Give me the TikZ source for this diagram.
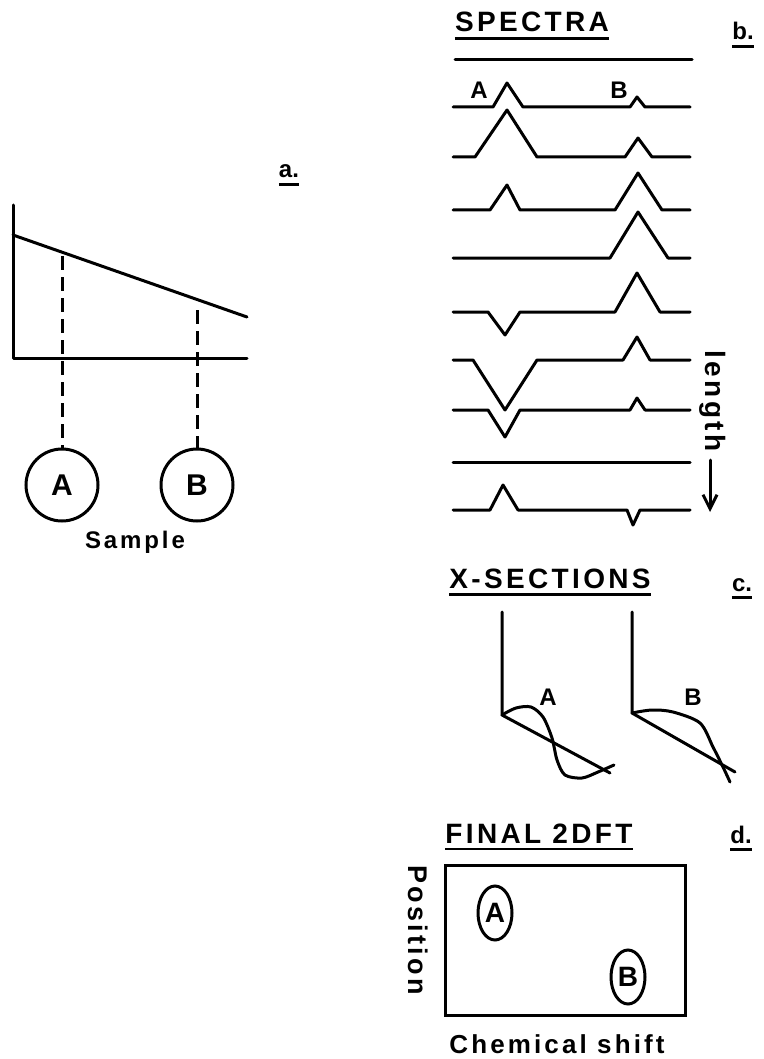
\documentclass[tikz,border=0pt]{standalone}
\usepackage{fontspec}
\newfontfamily\sketchfont{Liberation Sans Bold}[LetterSpace=12]
\newfontfamily\sketchplain{Liberation Sans Bold}
\usetikzlibrary{positioning,arrows.meta,shapes.geometric}

\tikzset{
  trace/.style={line width=3pt, line join=round, line cap=round},
  dashline/.style={line width=3pt, dash pattern=on 14pt off 7pt},
  uline/.style={line width=2.5pt},
  ttl/.style={font=\sketchfont\fontsize{28}{30}\selectfont, inner sep=0pt, anchor=base},
  tag/.style={font=\sketchplain\fontsize{24}{26}\selectfont, inner sep=0pt, anchor=base},
  pk/.style={font=\sketchplain\fontsize{24}{26}\selectfont, inner sep=0pt},
  smp/.style={draw, circle, line width=3pt, minimum size=72pt, inner sep=0pt,
    font=\sketchplain\fontsize{30}{32}\selectfont},
  spot/.style={draw, ellipse, line width=3pt, minimum width=34pt, minimum height=54pt,
    inner sep=0pt, font=\sketchplain\fontsize{28}{30}\selectfont},
}

\begin{document}
\begin{tikzpicture}[x=1pt, y=-1pt]
\useasboundingbox (0,0) rectangle (763,1059);
% a. sample and profile
\node[tag] (pa) at (289,178) {a.};
\draw[trace] (13,205) -- (13,358) -- (247,358);
\draw[trace] (13,235) -- (247,317);
\node[smp] (smpA) at (62,485) {A};
\node[smp] (smpB) at (197,485) {B};
\coordinate (tipA) at (62,256);
\coordinate (tipB) at (197,310);
\draw[dashline] (tipA) -- (smpA);
\draw[dashline] (tipB) -- (smpB);
\node[ttl, font=\sketchfont\fontsize{24}{26}\selectfont] (smpl) at (135,548) {Sample};
% b. spectra
\node[ttl] (spectra) at (532,32) {SPECTRA};
\node[tag] (pb) at (743,40) {b.};
\draw[trace] (455,60) -- (692,60);
\node[pk] (pkA) at (479,90) {A};
\node[pk] (pkB) at (619,90) {B};
\foreach \y/\asx/\apx/\apy/\aex/\bsx/\bpx/\bpy/\bex in {
    107/493/507/83/523/630/637/97/645,  157/475/507/110/537/625/638/138/652,
    210/490/507/185/520/615/638/173/662, 258/500/507/258/515/610/638/212/668,
    312/488/505/335/520/615/637/273/660, 360/473/505/410/537/623/637/337/650,
    410/488/505/437/520/630/637/398/645, 462/500/505/462/520/630/637/462/645,
    510/490/503/485/518/627/633/525/640}
  \draw[trace] (453,\y) -- (\asx,\y) -- (\apx,\apy) -- (\aex,\y)
    -- (\bsx,\y) -- (\bpx,\bpy) -- (\bex,\y) -- (690,\y);
\node[ttl, rotate=-90, anchor=center] (lenlbl) at (713,401) {length};
\coordinate (lenstart) at (710,460);
\coordinate (lenend) at (710,512);
\draw[trace, -{Straight Barb[length=14pt, width=14pt]}] (lenstart) -- (lenend);
% c. cross sections
\node[ttl] (xsec) at (550,588) {X-SECTIONS};
\node[tag] (pc) at (742,591) {c.};
\draw[trace] (502,612) -- (502,715) -- (610,773);
\draw[trace] plot[smooth] coordinates {(502,715) (516,708) (531,707) (543,717)
  (552,738) (557,760) (565,775) (582,778) (598,772) (614,765)};
\node[pk] (xsA) at (548,697) {A};
\draw[trace] (632,612) -- (632,713) -- (735,772);
\draw[trace] plot[smooth] coordinates {(632,713) (652,710) (673,712) (700,723)
  (713,747) (723,767) (730,782)};
\node[pk] (xsB) at (693,697) {B};
% d. final 2dft
\node[ttl] (final) at (539,843) {FINAL 2DFT};
\node[tag] (pd) at (741,843) {d.};
\node[draw, line width=3pt, minimum width=240pt, minimum height=150pt, inner sep=0pt]
  (ftbox) at (565,940) {};
\node[spot] (spotA) at (495,913) {A};
\node[spot] (spotB) at (628,977) {B};
\node[ttl, rotate=-90, anchor=center, font=\sketchfont\fontsize{27}{29}\selectfont]
  (posn) at (418,930) {Position};
\node[ttl, font=\sketchfont\fontsize{26}{28}\selectfont] (shift) at (557,1053) {Chemical shift};
% underlines
\foreach \n in {pa,pb,pc,pd,spectra,xsec,final}
  \draw[uline] ([yshift=-6pt]\n.south west) -- ([yshift=-6pt]\n.south east);
\end{tikzpicture}
\end{document}
